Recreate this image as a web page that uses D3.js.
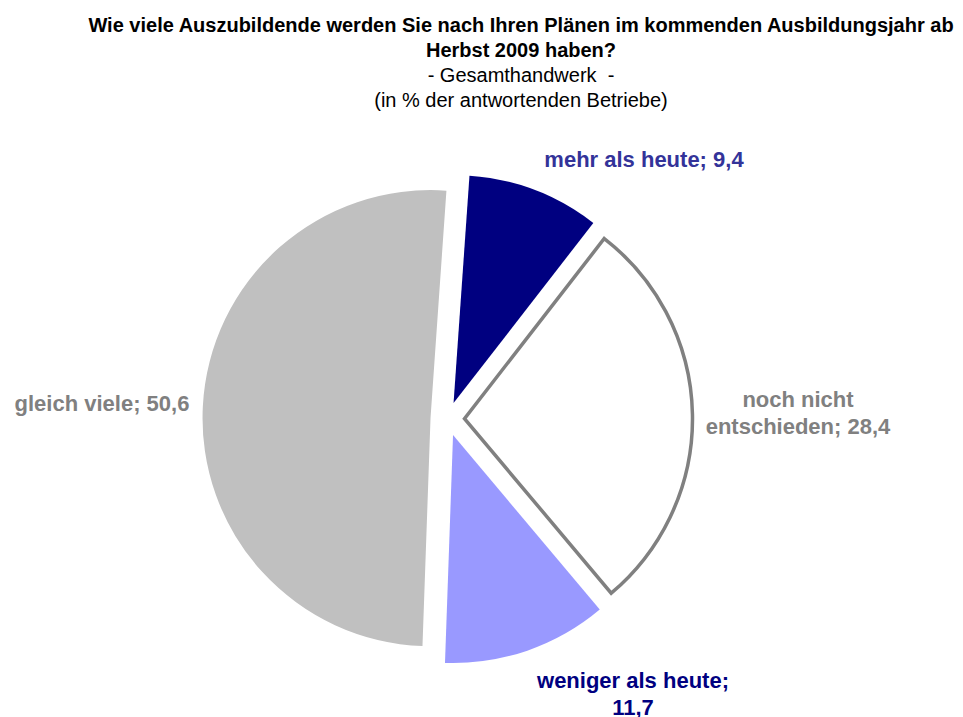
<!DOCTYPE html>
<html>
<head>
<meta charset="utf-8">
<script src="https://cdn.jsdelivr.net/npm/d3@7"></script>
<style>
  html, body { margin: 0; padding: 0; background: #fff; }
  svg { display: block; font-family: "Liberation Sans", Arial, Helvetica, sans-serif; }
  text { white-space: pre; }
</style>
</head>
<body>
<svg id="chart" width="963" height="717"></svg>
<script>
// ---- data ----
const categories = ["mehr als heute", "noch nicht entschieden", "weniger als heute", "gleich viele"];
const values = [9.4, 28.4, 11.7, 50.6];
const valueLabels = ["9,4", "28,4", "11,7", "50,6"];
const labelLines = [
  ["mehr als heute; 9,4"],
  ["noch nicht", "entschieden; 28,4"],
  ["weniger als heute;", "11,7"],
  ["gleich viele; 50,6"]
];
const titleLines = [
  "Wie viele Auszubildende werden Sie nach Ihren Plänen im kommenden Ausbildungsjahr ab",
  "Herbst 2009 haben?",
  "- Gesamthandwerk  -",
  "(in % der antwortenden Betriebe)"
];

// ---- styles / layout ----
const fills = ["#000080", "#FFFFFF", "#9999FF", "#C0C0C0"];
const strokes = ["none", "#808080", "none", "none"];
const labelColors = ["#333399", "#808080", "#000080", "#808080"];
const labelPos = [[644, 167], [798, 407], [633, 688], [102, 411]];
const labelLineGap = 27;

const svg = d3.select("#chart");
const W = 963, H = 717;
svg.append("rect").attr("width", W).attr("height", H).attr("fill", "#fff");

// Title
const titleX = 521;
const titleY = [32, 57, 82, 107];
svg.append("g").selectAll("text").data(titleLines).join("text")
  .attr("x", titleX)
  .attr("y", (d, i) => titleY[i])
  .attr("text-anchor", "middle")
  .attr("font-size", 20)
  .attr("font-weight", (d, i) => i < 2 ? "bold" : "normal")
  .attr("fill", "#000")
  .text(d => d);

// Pie
const cx = 447.5, cy = 419, r = 228, explode = 17;
const start = 4 * Math.PI / 180;
const pie = d3.pie().sort(null).value(d => d).startAngle(start).endAngle(start + 2 * Math.PI);
const arc = d3.arc().innerRadius(0).outerRadius(r);
const arcs = pie(values);

const g = svg.append("g").attr("transform", `translate(${cx},${cy})`);
g.selectAll("path").data(arcs).join("path")
  .attr("d", arc)
  .attr("transform", d => {
    const a = (d.startAngle + d.endAngle) / 2;
    return `translate(${explode * Math.sin(a)},${-explode * Math.cos(a)})`;
  })
  .attr("fill", (d, i) => fills[i])
  .attr("stroke", (d, i) => strokes[i])
  .attr("stroke-width", 3.5)
  .attr("stroke-linejoin", "miter");

// Labels
const lg = svg.append("g");
labelLines.forEach((lines, i) => {
  const t = lg.append("text")
    .attr("text-anchor", "middle")
    .attr("font-size", 22)
    .attr("font-weight", "bold")
    .attr("fill", labelColors[i]);
  lines.forEach((ln, j) => {
    t.append("tspan")
      .attr("x", labelPos[i][0])
      .attr("y", labelPos[i][1] + j * labelLineGap)
      .text(ln);
  });
});
</script>
</body>
</html>
